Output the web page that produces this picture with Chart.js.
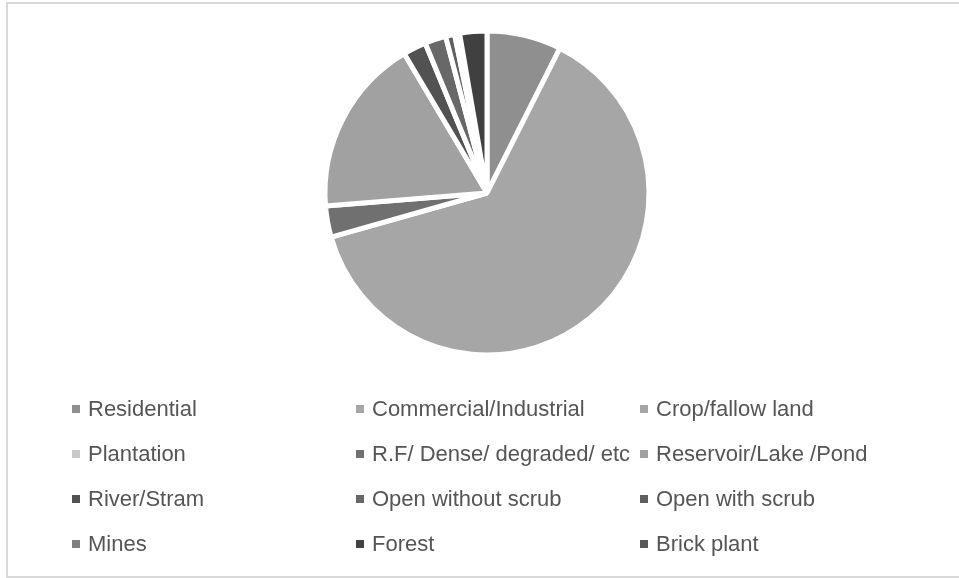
<!DOCTYPE html>
<html>
<head>
<meta charset="utf-8">
<script src="https://cdn.jsdelivr.net/npm/chart.js@4"></script>
<style>
  html, body { margin: 0; background: #fff; width: 959px; height: 578px; overflow: hidden; }
  body { position: relative; }
  #frame { position: absolute; left: 6px; top: 2px; width: 990px; height: 576px; border: 2px solid #d9d9d9; box-sizing: border-box; }
  #chartBox { position: absolute; left: 0; top: 0; width: 959px; height: 578px; }
  #legend { position: absolute; left: 72px; top: 386px; display: grid; grid-template-columns: 284px 284px 284px; grid-auto-rows: 45px;
            font-family: "Liberation Sans", Arial, sans-serif; font-size: 22px; color: #555555; }
  #legend .item { display: flex; align-items: center; white-space: nowrap; }
  #legend .box { width: 8px; height: 8px; margin-right: 8px; flex: none; }
</style>
</head>
<body>
<div id="frame"></div>
<div id="chartBox"><canvas id="landPie"></canvas></div>
<div id="legend"></div>
<script>
// land use classes and their share (%)
const labels = [
    'Residential', 'Commercial/Industrial', 'Crop/fallow land',
    'Plantation', 'R.F/ Dense/ degraded/ etc', 'Reservoir/Lake /Pond',
    'River/Stram', 'Open without scrub', 'Open with scrub',
    'Mines', 'Forest', 'Brick plant'
];
const shares = [7.4, 0, 63.0, 0, 3.1, 17.7, 2.3, 2.1, 0.9, 0.5, 2.7, 0];
const colors = [
    '#8f8f8f', '#a5a5a5', '#a6a6a6',
    '#c9c9c9', '#707070', '#a1a1a1',
    '#525252', '#686868', '#5f5f5f',
    '#7f7f7f', '#404040', '#5a5a5a'
];

const config = {
    type: 'pie',
    data: {
        labels: labels,
        datasets: [{
            data: shares,
            backgroundColor: colors,
            borderColor: '#ffffff',
            borderWidth: 5
        }]
    },
    options: {
        responsive: true,
        maintainAspectRatio: false,
        animation: false,
        radius: 162,
        layout: {
            padding: { left: 15, right: 0, top: 0, bottom: 192 }
        },
        plugins: {
            legend: { display: false },
            tooltip: { enabled: false }
        }
    }
};

const ctx = document.getElementById('landPie').getContext('2d');
const myChart = new Chart(ctx, config);

// legend in three columns, built from the chart data
const legendDiv = document.getElementById('legend');
myChart.data.labels.forEach(function (label, i) {
    const item = document.createElement('div');
    item.className = 'item';
    const box = document.createElement('span');
    box.className = 'box';
    box.style.background = myChart.data.datasets[0].backgroundColor[i];
    const text = document.createElement('span');
    text.textContent = label;
    item.appendChild(box);
    item.appendChild(text);
    legendDiv.appendChild(item);
});
</script>
</body>
</html>
